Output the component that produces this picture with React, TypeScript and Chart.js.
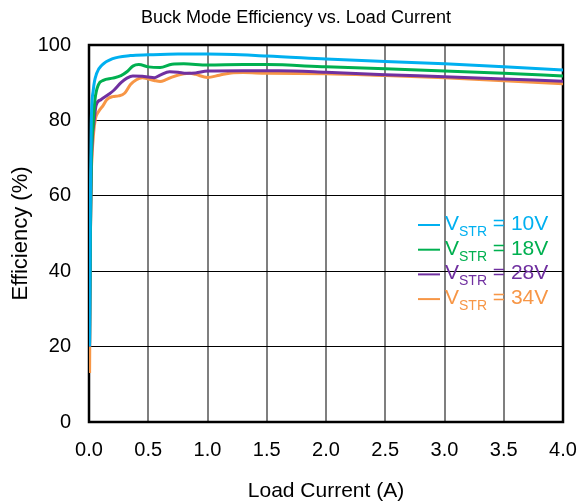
import React, { useEffect, useRef } from 'react';
import { Chart, registerables } from 'chart.js';

Chart.register(...registerables);

const TITLE = 'Buck Mode Efficiency vs. Load Current';
const X_TITLE = 'Load Current (A)';
const Y_TITLE = 'Efficiency (%)';
const SERIES_VALUES = ['10V', '18V', '28V', '34V'];
const COLORS = ['#00B0F0', '#00B050', '#7030A0', '#F79646'];
const X_TICKS = [0, 0.5, 1.0, 1.5, 2.0, 2.5, 3.0, 3.5, 4.0];
const Y_TICKS = [0, 20, 40, 60, 80, 100];

const I_10V = [0.005, 0.012, 0.019, 0.036, 0.065, 0.11, 0.2, 0.35, 0.5, 0.75, 1.0, 1.5, 2.0, 2.5, 3.0, 3.5, 4.0];
const EFF_10V = [20, 60, 79, 88, 92.5, 94.7, 96.4, 97.2, 97.4, 97.6, 97.6, 97.1, 96.3, 95.6, 95.0, 94.2, 93.4];

const I_18V = [0.005, 0.012, 0.02, 0.035, 0.05, 0.08, 0.12, 0.2, 0.27, 0.32, 0.37, 0.42, 0.5, 0.6, 0.7, 0.8, 1.0, 1.3, 1.5, 2.0, 2.5, 3.0, 3.5, 4.0];
const EFF_18V = [21, 50, 70, 79, 85.4, 89.5, 90.6, 91.2, 91.9, 92.9, 94.4, 94.8, 94.2, 94.0, 94.9, 95.0, 94.7, 94.8, 94.8, 94.2, 93.7, 93.1, 92.5, 91.8];

const I_28V = [0.005, 0.012, 0.02, 0.03, 0.042, 0.06, 0.1, 0.17, 0.21, 0.27, 0.32, 0.37, 0.45, 0.5, 0.55, 0.6, 0.68, 0.75, 0.82, 0.9, 1.0, 1.3, 1.6, 2.0, 2.5, 3.0, 3.5, 4.0];
const EFF_28V = [20, 50, 68, 76, 79.5, 84, 85.5, 87, 88, 90, 91.2, 91.8, 91.7, 91.5, 91.3, 92.0, 92.9, 92.8, 92.5, 92.6, 93.1, 93.2, 93.2, 92.8, 92.1, 91.6, 91.0, 90.4];

const I_34V = [0.005, 0.01, 0.015, 0.025, 0.04, 0.055, 0.08, 0.12, 0.15, 0.2, 0.25, 0.3, 0.35, 0.4, 0.45, 0.5, 0.55, 0.6, 0.65, 0.7, 0.8, 0.85, 0.9, 1.0, 1.1, 1.2, 1.3, 1.5, 2.0, 2.5, 3.0, 3.5, 4.0];
const EFF_34V = [13, 40, 60, 70, 77, 80.5, 82.3, 84, 85.5, 86.3, 86.5, 87.2, 89.5, 90.8, 91.3, 91.0, 90.6, 90.3, 90.8, 91.5, 92.4, 92.5, 92.2, 91.4, 92.0, 92.6, 92.7, 92.5, 92.4, 91.9, 91.3, 90.5, 89.7];

const SERIES_X = [I_10V, I_18V, I_28V, I_34V];
const SERIES_Y = [EFF_10V, EFF_18V, EFF_28V, EFF_34V];

const FONT = '"Liberation Sans", Arial, Helvetica, sans-serif';

export default function App() {
  const ref = useRef<HTMLCanvasElement | null>(null);

  useEffect(() => {
    document.body.style.margin = '0';
    const canvas = ref.current;
    if (!canvas) return;

    const datasets = SERIES_X.map((xs, i) => ({
      label: 'VSTR = ' + SERIES_VALUES[i],
      data: xs.map((x, j) => ({ x, y: SERIES_Y[i][j] })),
      borderColor: COLORS[i],
      backgroundColor: COLORS[i],
      borderWidth: 3,
      pointRadius: 0,
      cubicInterpolationMode: 'monotone' as const,
      fill: false,
    }));

    const framePlugin = {
      id: 'frame',
      beforeDatasetsDraw(chart: any) {
        const { ctx, chartArea: a } = chart;
        ctx.save();
        ctx.strokeStyle = '#000';
        ctx.lineWidth = 2.5;
        ctx.strokeRect(a.left, a.top, a.right - a.left, a.bottom - a.top);
        ctx.restore();
      },
    };

    const textPlugin = {
      id: 'texts',
      afterDraw(chart: any) {
        const { ctx } = chart;
        ctx.save();
        ctx.fillStyle = '#000';
        ctx.font = `18px ${FONT}`;
        ctx.textAlign = 'center';
        ctx.textBaseline = 'middle';
        ctx.fillText(TITLE, 296, 18);

        // legend
        ctx.textAlign = 'left';
        ctx.textBaseline = 'alphabetic';
        SERIES_VALUES.forEach((v, i) => {
          const base = 230 + i * 24.7;
          ctx.strokeStyle = COLORS[i];
          ctx.fillStyle = COLORS[i];
          ctx.lineWidth = 2;
          ctx.beginPath();
          ctx.moveTo(418, base - 5);
          ctx.lineTo(440, base - 5);
          ctx.stroke();
          let x = 445;
          ctx.font = `21px ${FONT}`;
          ctx.fillText('V', x, base);
          x += ctx.measureText('V').width;
          ctx.font = `14px ${FONT}`;
          ctx.fillText('STR', x, base + 6);
          x += ctx.measureText('STR').width;
          ctx.font = `21px ${FONT}`;
          ctx.fillText(' = ' + v, x, base);
        });
        ctx.restore();
      },
    };

    const chart = new Chart(canvas, {
      type: 'line',
      data: { datasets },
      plugins: [framePlugin, textPlugin],
      options: {
        animation: false,
        responsive: false,
        layout: { padding: { left: 0, right: 14, top: 45, bottom: 0 } },
        plugins: {
          legend: { display: false },
          title: { display: false },
          tooltip: { enabled: false },
        },
        scales: {
          x: {
            type: 'linear',
            min: 0,
            max: 4,
            afterBuildTicks: (s: any) => {
              s.ticks = X_TICKS.map((v) => ({ value: v }));
            },
            afterFit: (s: any) => {
              s.height = 82;
              s.paddingLeft = 0;
              s.paddingRight = 0;
            },
            ticks: {
              color: '#000',
              font: { family: FONT, size: 20 },
              padding: 16,
              maxRotation: 0,
              autoSkip: false,
              callback: (v: any) => Number(v).toFixed(1),
            },
            grid: { color: '#7f7f7f', lineWidth: 2, drawTicks: false },
            border: { display: false },
            title: {
              display: true,
              text: X_TITLE,
              color: '#000',
              font: { family: FONT, size: 21 },
              padding: { top: 0, bottom: 0 },
            },
          },
          y: {
            type: 'linear',
            min: 0,
            max: 100,
            afterBuildTicks: (s: any) => {
              s.ticks = Y_TICKS.map((v) => ({ value: v }));
            },
            afterFit: (s: any) => {
              s.width = 89;
              s.paddingTop = 0;
              s.paddingBottom = 0;
            },
            ticks: {
              color: '#000',
              font: { family: FONT, size: 20 },
              padding: 18,
              autoSkip: false,
            },
            grid: { color: '#000', lineWidth: 1, drawTicks: false },
            border: { display: false },
            title: {
              display: true,
              text: Y_TITLE,
              color: '#000',
              font: { family: FONT, size: 22 },
              padding: { top: 8, bottom: 0 },
            },
          },
        },
      } as any,
    });

    return () => chart.destroy();
  }, []);

  return <canvas ref={ref} width={577} height={504} style={{ display: 'block' }} />;
}
